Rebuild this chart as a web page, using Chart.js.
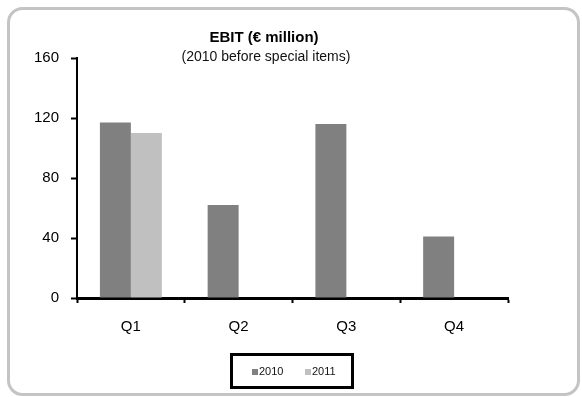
<!DOCTYPE html>
<html>
<head>
<meta charset="utf-8">
<script src="https://cdn.jsdelivr.net/npm/chart.js@4"></script>
<style>
  html, body { margin: 0; padding: 0; background: #fff; }
  #wrap { width: 582px; height: 397px; }
</style>
</head>
<body>
<div id="wrap"><canvas id="ebit"></canvas></div>
<script>
// EBIT per quarter, € million
var quarters = ["Q1", "Q2", "Q3", "Q4"];
var ebit2010 = [117, 62, 116, 41];
var ebit2011 = [110, null, null, null];
var yTicks = [0, 40, 80, 120, 160];

var titleText = "EBIT (€ million)";
var subtitleText = "(2010 before special items)";
var font = "'Liberation Sans', Arial, sans-serif";

// rounded grey frame, title lines and boxed legend
var decor = {
    id: 'decor',
    beforeDraw: function (chart) {
        var c = chart.ctx;
        c.save();
        c.fillStyle = '#fff';
        c.fillRect(0, 0, chart.width, chart.height);
        c.strokeStyle = '#c4c4c4';
        c.lineWidth = 3;
        c.beginPath();
        c.roundRect(8.5, 8.5, 570, 386, 14);
        c.stroke();
        c.restore();
    },
    afterDraw: function (chart) {
        var c = chart.ctx;
        c.save();
        c.textAlign = 'center';
        c.textBaseline = 'middle';
        c.fillStyle = '#000';
        c.font = 'bold 15px ' + font;
        c.fillText(titleText, 264, 38);
        c.fillStyle = '#111';
        c.font = '14px ' + font;
        c.fillText(subtitleText, 266, 57);

        // legend box
        c.strokeStyle = '#000';
        c.lineWidth = 3;
        c.strokeRect(231.5, 354.5, 121, 33);
        c.font = '11px ' + font;
        c.textAlign = 'left';
        var xs = [252, 305];
        chart.data.datasets.forEach(function (ds, i) {
            c.fillStyle = ds.backgroundColor;
            c.fillRect(xs[i], 369, 6, 6);
            c.fillStyle = '#111';
            c.fillText(ds.label, xs[i] + 7, 372);
        });
        c.restore();
    }
};

new Chart(document.getElementById('ebit'), {
    type: 'bar',
    data: {
        labels: quarters,
        datasets: [{
            label: '2010',
            data: ebit2010,
            backgroundColor: '#808080',
            borderWidth: 0
        }, {
            label: '2011',
            data: ebit2011,
            backgroundColor: '#c0c0c0',
            borderWidth: 0
        }]
    },
    options: {
        responsive: true,
        maintainAspectRatio: false,
        animation: false,
        layout: { padding: { left: 17, right: 74, top: 58, bottom: 59 } },
        datasets: { bar: { categoryPercentage: 0.575, barPercentage: 1 } },
        plugins: {
            legend: { display: false },
            title: { display: false },
            tooltip: { enabled: false }
        },
        scales: {
            x: {
                afterFit: function (s) { s.height = 40; },
                grid: { drawOnChartArea: false, tickLength: 5, tickWidth: 2, tickColor: '#000', offset: true },
                border: { color: '#000', width: 3 },
                ticks: { color: '#000', font: { family: font, size: 15 }, padding: 15 }
            },
            y: {
                min: 0,
                max: 160,
                afterFit: function (s) { s.width = 60; },
                afterBuildTicks: function (s) { s.ticks = yTicks.map(function (v) { return { value: v }; }); },
                grid: { drawOnChartArea: false, tickLength: 6, tickWidth: 2, tickColor: '#000' },
                border: { color: '#000', width: 2 },
                ticks: { color: '#000', font: { family: font, size: 15 }, padding: 12 }
            }
        }
    },
    plugins: [decor]
});
</script>
</body>
</html>
